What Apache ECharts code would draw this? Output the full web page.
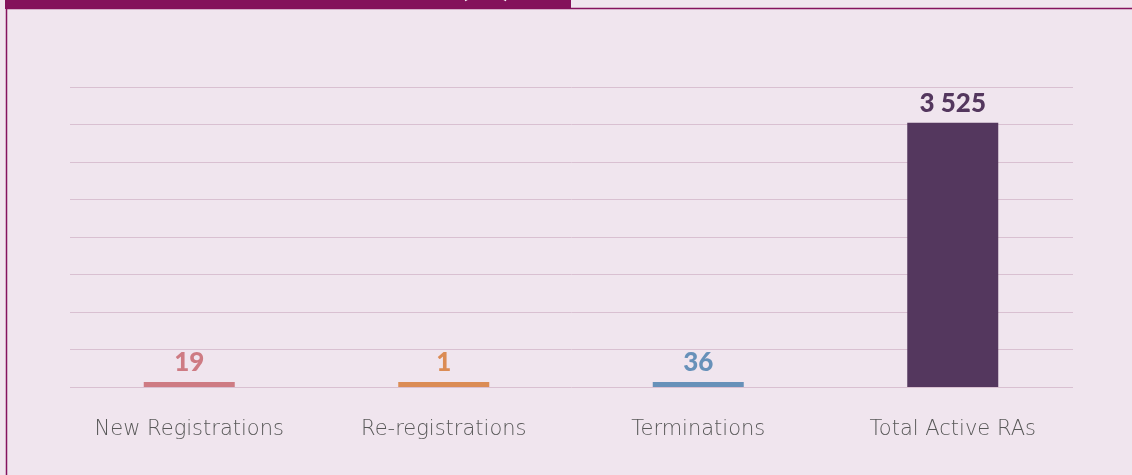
<!DOCTYPE html>
<html>
<head>
<meta charset="utf-8">
<script src="https://cdn.jsdelivr.net/npm/echarts@6/dist/echarts.min.js"></script>
<style>
  html, body { margin: 0; padding: 0; background: #f0e5ee; }
  #chart { width: 1132px; height: 475px; }
</style>
</head>
<body>
<div id="chart"></div>
<script>
  // data
  const categories = ['New Registrations', 'Re-registrations', 'Terminations', 'Total Active RAs']
  const values = [19, 1, 36, 3525]
  const barColors = ['#ce7b83', '#db8c55', '#6791b9', '#54375e']

  const chart = echarts.init(document.getElementById('chart'))

  chart.setOption({
    backgroundColor: '#f0e5ee',
    animation: false,
    graphic: [
      {
        // panel border, only bottom-right corner rounded
        type: 'rect',
        shape: { x: 6.5, y: 8.5, width: 1140, height: 480, r: [0, 0, 16, 0] },
        style: { fill: 'none', stroke: '#85135e', lineWidth: 1.5 },
        z: 0
      },
      {
        // header strip
        type: 'rect',
        shape: { x: 5, y: 0, width: 566, height: 9 },
        style: { fill: '#84125b' },
        z: 1
      },
      {
        type: 'text',
        left: 461,
        top: -24,
        style: { text: '(RA)', fill: '#ffffff', font: 'bold 26px Lato' },
        z: 2
      }
    ],
    grid: [
      { left: 62, right: 52, top: 87, bottom: 88 },
      { left: 70, right: 59, top: 87, bottom: 88 }
    ],
    xAxis: [
      {
        type: 'category',
        gridIndex: 0,
        data: categories,
        axisLine: { show: false },
        axisTick: { show: false },
        axisLabel: {
          margin: 32,
          fontFamily: 'DejaVu Sans',
          fontWeight: 200,
          fontSize: 21,
          color: '#585858'
        }
      },
      {
        type: 'value',
        gridIndex: 1,
        show: false
      }
    ],
    yAxis: [
      {
        type: 'value',
        gridIndex: 0,
        min: 0,
        max: 4000,
        interval: 500,
        show: false,
        splitLine: { show: false }
      },
      {
        type: 'value',
        gridIndex: 1,
        min: 0,
        max: 4000,
        interval: 500,
        axisLabel: { show: false },
        axisLine: { show: false },
        axisTick: { show: false },
        splitLine: { lineStyle: { color: '#d9c0d1', width: 1 } }
      }
    ],
    series: [
      {
        type: 'bar',
        xAxisIndex: 0,
        yAxisIndex: 0,
        barWidth: 91,
        barMinHeight: 5,
        data: values.map((v, i) => ({
          value: v,
          itemStyle: { color: barColors[i] },
          label: { color: barColors[i] }
        })),
        label: {
          show: true,
          position: 'top',
          distance: 6,
          fontFamily: 'Lato',
          fontWeight: 900,
          fontSize: 26,
          formatter: function (p) {
            return String(p.value).replace(/\B(?=(\d{3})+(?!\d))/g, ' ')
          }
        },
        z: 3
      }
    ]
  })
</script>
</body>
</html>
